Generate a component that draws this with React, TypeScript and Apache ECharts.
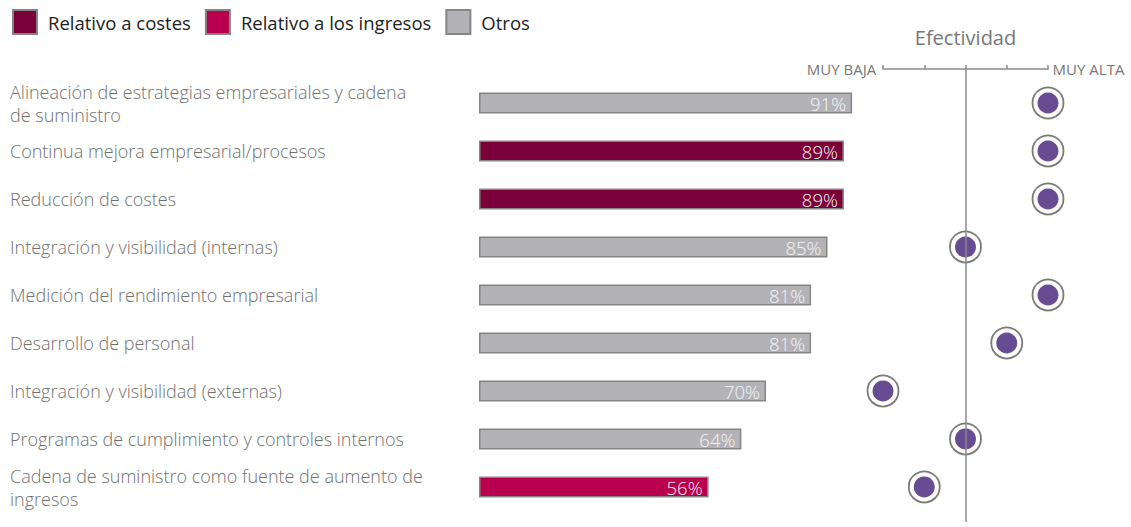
import React, { useEffect, useRef } from "react";
import * as echarts from "echarts";

const categories = [
  "Alineación de estrategias empresariales y cadena\nde suministro",
  "Continua mejora empresarial/procesos",
  "Reducción de costes",
  "Integración y visibilidad (internas)",
  "Medición del rendimiento empresarial",
  "Desarrollo de personal",
  "Integración y visibilidad (externas)",
  "Programas de cumplimiento y controles internos",
  "Cadena de suministro como fuente de aumento de\ningresos",
];

const seriesNames = ["Relativo a costes", "Relativo a los ingresos", "Otros"];
const costesValues = ["-", 89, 89, "-", "-", "-", "-", "-", "-"];
const ingresosValues = ["-", "-", "-", "-", "-", "-", "-", "-", 56];
const otrosValues = [91, "-", "-", 85, 81, 81, 70, 64, "-"];

const efectividad = [5, 5, 5, 3, 5, 4, 1, 3, 2];
const efectividadLabels = ["MUY BAJA", "", "", "", "MUY ALTA"];
const efectividadTitle = "Efectividad";

const FONT = "'Open Sans', Roboto, sans-serif";

export default function App() {
  const ref = useRef<HTMLDivElement>(null);
  useEffect(() => {
    if (!ref.current) return;
    const chart = echarts.init(ref.current, null, { renderer: "svg" });
    const colors = ["#7a0039", "#b8004e", "#b3b3b7"];
    const barSeries = [costesValues, ingresosValues, otrosValues].map((vals, k) => ({
      name: seriesNames[k],
      type: "bar",
      xAxisIndex: 0,
      yAxisIndex: 0,
      data: vals,
      barWidth: 21,
      barGap: "-100%",
      itemStyle: { color: colors[k], borderColor: "#858585", borderWidth: 1.5 },
      label: {
        show: true,
        position: "insideRight",
        distance: 6,
        formatter: "{c}%",
        color: "#f4f4f4",
        fontSize: 18.5,
        fontFamily: FONT,
        fontWeight: 300,
      },
    }));
    const dotData = efectividad.map((v, i) => [v, i]);
    chart.setOption({
      animation: false,
      textStyle: { fontFamily: FONT },
      legend: {
        left: 12,
        top: 9,
        padding: 0,
        icon: "rect",
        itemWidth: 24,
        itemHeight: 24,
        itemGap: 14,
        data: seriesNames,
        textStyle: { fontSize: 18.5, color: "#222", fontFamily: FONT, padding: [0, 0, 0, 6] },
        selectedMode: false,
      },
      grid: [
        { left: 479, width: 410, top: 79, height: 432 },
        { left: 883, width: 165, top: 69, height: 453 },
      ],
      xAxis: [
        { gridIndex: 0, type: "value", min: 0, max: 100, show: false },
        {
          gridIndex: 1,
          type: "value",
          min: 1,
          max: 5,
          interval: 1,
          position: "top",
          name: efectividadTitle,
          nameLocation: "middle",
          nameGap: 22,
          nameTextStyle: { fontSize: 20, color: "#777", fontFamily: FONT },
          axisLine: { show: true, onZero: false, lineStyle: { color: "#8a8a8a", width: 1.5 } },
          axisTick: { show: true, length: 4, lineStyle: { color: "#8a8a8a", width: 1.5 } },
          splitLine: { show: false },
          axisLabel: {
            show: true,
            margin: 0,
            verticalAlign: "middle",
            fontSize: 15,
            color: "#777",
            formatter: (v: number) => {
              const t = efectividadLabels[Math.round(v) - 1] || "";
              if (!t) return "";
              return Math.round(v) === 1 ? `{l|${t}}` : `{r|${t}}`;
            },
            rich: {
              l: { fontSize: 15, color: "#777", padding: [0, 83, 0, 0], fontFamily: FONT },
              r: { fontSize: 15, color: "#777", padding: [0, 0, 0, 81], fontFamily: FONT },
            },
          },
        },
      ],
      yAxis: [
        {
          gridIndex: 0,
          type: "category",
          inverse: true,
          data: categories,
          axisLine: { show: false },
          axisTick: { show: false },
          axisLabel: {
            align: "left",
            margin: 469,
            color: "#707070",
            fontSize: 18,
            lineHeight: 23,
            fontFamily: FONT,
            fontWeight: 300,
          },
        },
        {
          gridIndex: 1,
          type: "value",
          inverse: true,
          min: -0.708,
          max: 8.73,
          show: false,
        },
      ],
      series: [
        ...barSeries,
        {
          type: "scatter",
          xAxisIndex: 1,
          yAxisIndex: 1,
          data: [],
          z: 1,
          markLine: {
            silent: true,
            symbol: "none",
            label: { show: false },
            lineStyle: { color: "#8a8a8a", width: 1.5, type: "solid" },
            data: [{ xAxis: 3 }],
          },
        },
        {
          type: "scatter",
          xAxisIndex: 1,
          yAxisIndex: 1,
          data: dotData,
          symbolSize: 31,
          z: 3,
          itemStyle: { color: "#ffffff", borderColor: "#7a7a7a", borderWidth: 1.8, opacity: 1 },
        },
        {
          type: "scatter",
          xAxisIndex: 1,
          yAxisIndex: 1,
          data: dotData,
          symbolSize: 21,
          z: 4,
          itemStyle: { color: "#674c94", opacity: 1 },
        },
      ],
    });
    return () => chart.dispose();
  }, []);
  return (
    <div
      ref={ref}
      style={{ position: "fixed", left: 0, top: 0, width: 1131, height: 527, background: "#fff" }}
    />
  );
}
